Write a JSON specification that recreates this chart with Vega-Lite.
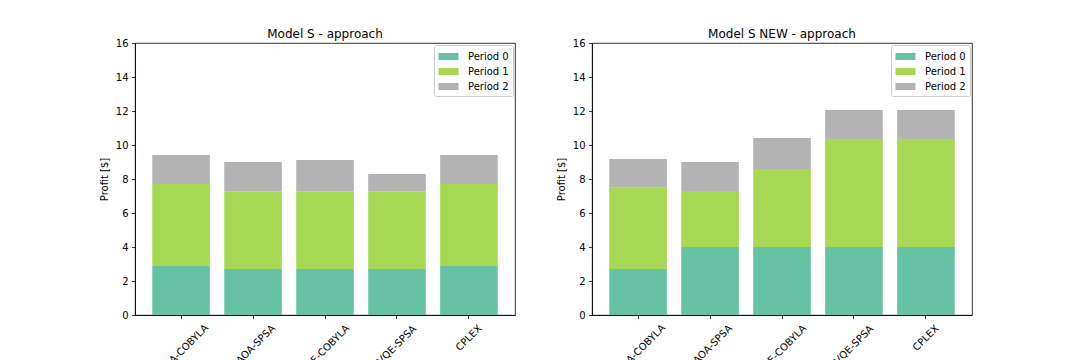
{
  "$schema": "https://vega.github.io/schema/vega-lite/v6.json",
  "padding": {"left": 98, "top": 27, "right": 0, "bottom": 0},
  "background": "white",
  "bounds": "flush",
  "spacing": 77,
  "config": {
    "font": "DejaVu Sans",
    "view": {"stroke": "black", "strokeWidth": 0.8},
    "title": {"fontSize": 12, "fontWeight": "normal", "color": "black", "offset": -3, "font": "DejaVu Sans"},
    "axis": {
      "labelFont": "DejaVu Sans", "labelFontSize": 10, "labelColor": "black",
      "titleFont": "DejaVu Sans", "titleFontSize": 10, "titleFontWeight": "normal", "titleColor": "black",
      "domainColor": "black", "domainWidth": 0.8, "tickColor": "black", "tickWidth": 0.8, "tickSize": 3.5,
      "grid": false
    },
    "legend": {"labelFont": "DejaVu Sans", "labelFontSize": 10, "labelColor": "black"}
  },
  "data": {"values": [
    {"model": "S", "method": "QAOA-COBYLA", "period": "Period 0", "profit": 2.88},
    {"model": "S", "method": "QAOA-COBYLA", "period": "Period 1", "profit": 4.83},
    {"model": "S", "method": "QAOA-COBYLA", "period": "Period 2", "profit": 1.70},
    {"model": "S", "method": "QAOA-SPSA", "period": "Period 0", "profit": 2.71},
    {"model": "S", "method": "QAOA-SPSA", "period": "Period 1", "profit": 4.56},
    {"model": "S", "method": "QAOA-SPSA", "period": "Period 2", "profit": 1.73},
    {"model": "S", "method": "VQE-COBYLA", "period": "Period 0", "profit": 2.71},
    {"model": "S", "method": "VQE-COBYLA", "period": "Period 1", "profit": 4.56},
    {"model": "S", "method": "VQE-COBYLA", "period": "Period 2", "profit": 1.85},
    {"model": "S", "method": "VQE-SPSA", "period": "Period 0", "profit": 2.71},
    {"model": "S", "method": "VQE-SPSA", "period": "Period 1", "profit": 4.56},
    {"model": "S", "method": "VQE-SPSA", "period": "Period 2", "profit": 1.02},
    {"model": "S", "method": "CPLEX", "period": "Period 0", "profit": 2.88},
    {"model": "S", "method": "CPLEX", "period": "Period 1", "profit": 4.83},
    {"model": "S", "method": "CPLEX", "period": "Period 2", "profit": 1.70},
    {"model": "S NEW", "method": "QAOA-COBYLA", "period": "Period 0", "profit": 2.71},
    {"model": "S NEW", "method": "QAOA-COBYLA", "period": "Period 1", "profit": 4.78},
    {"model": "S NEW", "method": "QAOA-COBYLA", "period": "Period 2", "profit": 1.69},
    {"model": "S NEW", "method": "QAOA-SPSA", "period": "Period 0", "profit": 4.0},
    {"model": "S NEW", "method": "QAOA-SPSA", "period": "Period 1", "profit": 3.29},
    {"model": "S NEW", "method": "QAOA-SPSA", "period": "Period 2", "profit": 1.71},
    {"model": "S NEW", "method": "VQE-COBYLA", "period": "Period 0", "profit": 4.0},
    {"model": "S NEW", "method": "VQE-COBYLA", "period": "Period 1", "profit": 4.59},
    {"model": "S NEW", "method": "VQE-COBYLA", "period": "Period 2", "profit": 1.82},
    {"model": "S NEW", "method": "VQE-SPSA", "period": "Period 0", "profit": 4.0},
    {"model": "S NEW", "method": "VQE-SPSA", "period": "Period 1", "profit": 6.35},
    {"model": "S NEW", "method": "VQE-SPSA", "period": "Period 2", "profit": 1.71},
    {"model": "S NEW", "method": "CPLEX", "period": "Period 0", "profit": 4.0},
    {"model": "S NEW", "method": "CPLEX", "period": "Period 1", "profit": 6.35},
    {"model": "S NEW", "method": "CPLEX", "period": "Period 2", "profit": 1.71}
  ]},
  "resolve": {"scale": {"color": "independent", "y": "independent", "x": "independent"}, "legend": {"color": "independent"}},
  "hconcat": [
    {
      "title": "Model S - approach",
      "width": 380, "height": 272,
      "transform": [{"filter": "datum.model === 'S'"}],
      "mark": {"type": "bar"},
      "encoding": {
        "x": {"field": "method", "type": "nominal", "sort": ["QAOA-COBYLA", "QAOA-SPSA", "VQE-COBYLA", "VQE-SPSA", "CPLEX"],
              "scale": {"paddingInner": 0.2, "paddingOuter": 0.24},
              "axis": {"title": null, "labelAngle": -45, "labelAlign": "center", "labelBaseline": "middle",
                       "labelPadding": {"expr": "3.5 + (length(datum.label)*6.5 + 11.6)*0.354"}}},
        "y": {"field": "profit", "type": "quantitative", "stack": "zero",
              "scale": {"domain": [0, 16], "nice": false},
              "axis": {"title": "Profit [$]", "values": [0, 2, 4, 6, 8, 10, 12, 14, 16], "labelPadding": 3.5, "titlePadding": 6}},
        "color": {"field": "period", "type": "nominal",
                  "scale": {"domain": ["Period 0", "Period 1", "Period 2"], "range": ["#66c2a5", "#a6d854", "#b3b3b3"]},
                  "legend": {"title": null, "orient": "top-right", "offset": 2, "padding": 4, "fillColor": "white", "strokeColor": "#cccccc", "cornerRadius": 2,
                             "symbolType": "M-1.414,-0.495H1.414V0.495H-1.414Z", "symbolSize": 200, "symbolOffset": 3, "symbolStrokeWidth": 0, "symbolOpacity": 1, "labelOffset": 12, "rowPadding": 2}},
        "order": {"field": "period", "sort": "ascending"}
      }
    },
    {
      "title": "Model S NEW - approach",
      "width": 380, "height": 272,
      "transform": [{"filter": "datum.model === 'S NEW'"}],
      "mark": {"type": "bar"},
      "encoding": {
        "x": {"field": "method", "type": "nominal", "sort": ["QAOA-COBYLA", "QAOA-SPSA", "VQE-COBYLA", "VQE-SPSA", "CPLEX"],
              "scale": {"paddingInner": 0.2, "paddingOuter": 0.24},
              "axis": {"title": null, "labelAngle": -45, "labelAlign": "center", "labelBaseline": "middle",
                       "labelPadding": {"expr": "3.5 + (length(datum.label)*6.5 + 11.6)*0.354"}}},
        "y": {"field": "profit", "type": "quantitative", "stack": "zero",
              "scale": {"domain": [0, 16], "nice": false},
              "axis": {"title": "Profit [$]", "values": [0, 2, 4, 6, 8, 10, 12, 14, 16], "labelPadding": 3.5, "titlePadding": 6}},
        "color": {"field": "period", "type": "nominal",
                  "scale": {"domain": ["Period 0", "Period 1", "Period 2"], "range": ["#66c2a5", "#a6d854", "#b3b3b3"]},
                  "legend": {"title": null, "orient": "top-right", "offset": 2, "padding": 4, "fillColor": "white", "strokeColor": "#cccccc", "cornerRadius": 2,
                             "symbolType": "M-1.414,-0.495H1.414V0.495H-1.414Z", "symbolSize": 200, "symbolOffset": 3, "symbolStrokeWidth": 0, "symbolOpacity": 1, "labelOffset": 12, "rowPadding": 2}},
        "order": {"field": "period", "sort": "ascending"}
      }
    }
  ]
}
